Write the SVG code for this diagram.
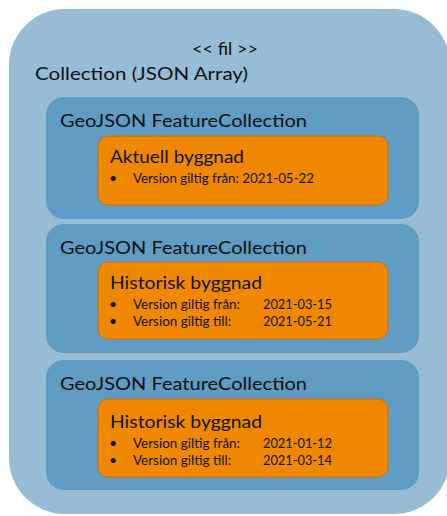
<svg xmlns="http://www.w3.org/2000/svg" width="447" height="516" viewBox="0 0 447 516">
<style>
.outer{fill:#96bcd6}
.fc{fill:#5f9bc2}
.bld{fill:#ef8800;stroke:#c47312;stroke-width:1}
text{font-family:Lato,"Open Sans","Liberation Sans",sans-serif;fill:#111}
.h{font-size:17px}
.t{font-size:18px}
.b{font-size:14px}
</style>
<rect width="447" height="516" fill="#ffffff"/>
<g id="collection">
<rect class="outer" x="9" y="9" width="441" height="505" rx="56"/>
<text class="h" x="192" y="55" textLength="66" lengthAdjust="spacingAndGlyphs">&lt;&lt; fil &gt;&gt;</text>
<text class="h" x="35" y="80" textLength="213" lengthAdjust="spacingAndGlyphs">Collection (JSON Array)</text>
</g>
<g id="fc1">
<rect class="fc" x="46" y="97" width="373" height="122" rx="18"/>
<text class="h" x="60" y="127" textLength="247" lengthAdjust="spacingAndGlyphs">GeoJSON FeatureCollection</text>
</g>
<g id="b1">
<rect class="bld" x="98" y="136" width="290" height="69" rx="10"/>
<text class="t" x="110" y="163" textLength="134" lengthAdjust="spacingAndGlyphs">Aktuell byggnad</text>
<text class="b" x="109" y="183">•</text>
<text class="b" x="133" y="183" textLength="181" lengthAdjust="spacingAndGlyphs">Version giltig från: 2021-05-22</text>
</g>
<g id="fc2">
<rect class="fc" x="46" y="224" width="373" height="129" rx="18"/>
<text class="h" x="60" y="254" textLength="247" lengthAdjust="spacingAndGlyphs">GeoJSON FeatureCollection</text>
</g>
<g id="b2">
<rect class="bld" x="98" y="262" width="290" height="77" rx="10"/>
<text class="t" x="110" y="289" textLength="152" lengthAdjust="spacingAndGlyphs">Historisk byggnad</text>
<text class="b" x="109" y="309">•</text>
<text class="b" x="133" y="309" textLength="107" lengthAdjust="spacingAndGlyphs">Version giltig från:</text>
<text class="b" x="263" y="309" textLength="69" lengthAdjust="spacingAndGlyphs">2021-03-15</text>
<text class="b" x="109" y="326">•</text>
<text class="b" x="133" y="326" textLength="98" lengthAdjust="spacingAndGlyphs">Version giltig till:</text>
<text class="b" x="263" y="326" textLength="69" lengthAdjust="spacingAndGlyphs">2021-05-21</text>
</g>
<g id="fc3">
<rect class="fc" x="46" y="360" width="373" height="130" rx="18"/>
<text class="h" x="60" y="390" textLength="247" lengthAdjust="spacingAndGlyphs">GeoJSON FeatureCollection</text>
</g>
<g id="b3">
<rect class="bld" x="98" y="399" width="290" height="78" rx="10"/>
<text class="t" x="110" y="428" textLength="152" lengthAdjust="spacingAndGlyphs">Historisk byggnad</text>
<text class="b" x="109" y="448">•</text>
<text class="b" x="133" y="448" textLength="107" lengthAdjust="spacingAndGlyphs">Version giltig från:</text>
<text class="b" x="263" y="448" textLength="69" lengthAdjust="spacingAndGlyphs">2021-01-12</text>
<text class="b" x="109" y="465">•</text>
<text class="b" x="133" y="465" textLength="98" lengthAdjust="spacingAndGlyphs">Version giltig till:</text>
<text class="b" x="263" y="465" textLength="69" lengthAdjust="spacingAndGlyphs">2021-03-14</text>
</g>
<g id="connectors"></g>
</svg>
